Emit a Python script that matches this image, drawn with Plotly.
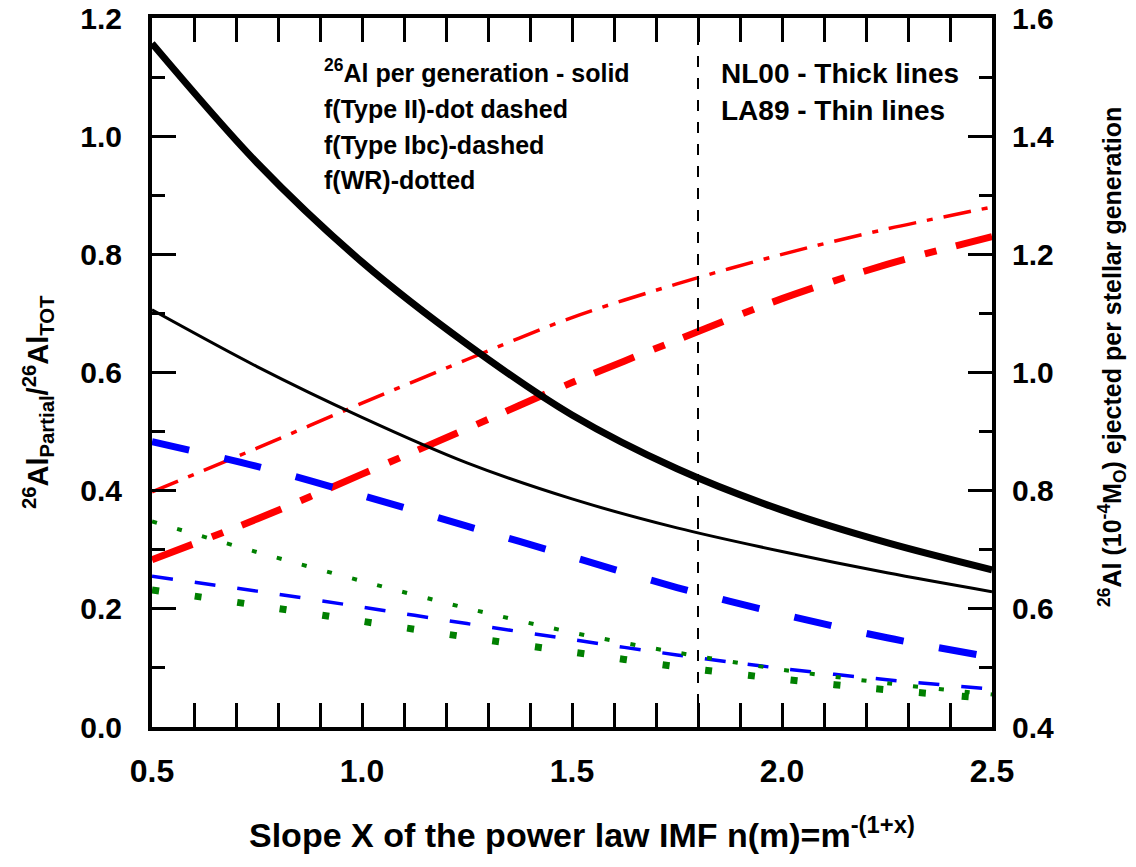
import plotly.graph_objects as go

# ---------------- data ----------------
slope_x = [0.5, 0.75, 1.0, 1.25, 1.5, 1.75, 2.0, 2.25, 2.5]

# 26Al ejected per stellar generation (right axis, 10^-4 Msun) - solid
al26_nl00 = [1.557, 1.355, 1.187, 1.048, 0.928, 0.837, 0.767, 0.712, 0.666]
al26_la89 = [1.106, 1.010, 0.924, 0.847, 0.786, 0.737, 0.697, 0.661, 0.629]

# fractions (left axis)
f_typeII_nl00 = [0.283, 0.352, 0.428, 0.505, 0.583, 0.655, 0.725, 0.783, 0.830]
f_typeII_la89 = [0.398, 0.472, 0.548, 0.622, 0.693, 0.750, 0.800, 0.843, 0.880]
f_typeIbc_nl00 = [0.483, 0.441, 0.392, 0.340, 0.288, 0.236, 0.191, 0.151, 0.118]
f_typeIbc_la89 = [0.255, 0.230, 0.203, 0.175, 0.148, 0.122, 0.099, 0.080, 0.064]
f_wr_nl00 = [0.232, 0.206, 0.179, 0.152, 0.127, 0.102, 0.081, 0.063, 0.048]
f_wr_la89 = [0.348, 0.296, 0.247, 0.201, 0.160, 0.126, 0.097, 0.074, 0.055]

boundary_x = 1.8

x_ticks = [0.5, 1.0, 1.5, 2.0, 2.5]
y_ticks = [0.0, 0.2, 0.4, 0.6, 0.8, 1.0, 1.2]
y2_ticks = [0.4, 0.6, 0.8, 1.0, 1.2, 1.4, 1.6]

# ---------------- styling ----------------
FONT = "Liberation Sans, Arial, sans-serif"
PAGE_OFFSET = 8            # default body margin of the html page
W, H = 1136 - PAGE_OFFSET, 867 - PAGE_OFFSET
# plot-area edges in page pixels
L, R, T, B = 152, 992, 18, 727


def px_x(p):
    return (p - L) / (R - L)


def px_y(p):
    return (B - p) / (B - T)


fig = go.Figure()


def add_line(y, color, width, dash, axis="y"):
    fig.add_trace(go.Scatter(
        x=slope_x, y=y, mode="lines", yaxis=axis,
        line=dict(color=color, width=width, dash=dash, shape="spline", smoothing=0.9),
        showlegend=False, hoverinfo="skip"))


add_line(al26_nl00, "black", 7, "solid", "y2")
add_line(al26_la89, "black", 3, "solid", "y2")
add_line(f_typeII_nl00, "#ff0000", 7, "43px,21px,12px,20px")
add_line(f_typeII_la89, "#ff0000", 3.5, "28px,11px,6px,11px")
add_line(f_typeIbc_nl00, "#0000ff", 7, "38px,36px")
add_line(f_typeIbc_la89, "#0000ff", 3.5, "21px,22px")
add_line(f_wr_nl00, "#008000", 7, "7px,36px")
add_line(f_wr_la89, "#008000", 4, "5px,21px")

fig.add_shape(type="line", xref="x", yref="paper", x0=boundary_x, x1=boundary_x,
              y0=0, y1=1, line=dict(color="black", width=2, dash="11px,11px"))

axis_common = dict(
    showgrid=False, zeroline=False, showline=True, linecolor="black", linewidth=4,
    ticks="inside", ticklen=24, tickwidth=3, tickcolor="black", automargin=False,
    ticklabeloverflow="allow",
)
minor_common = dict(ticks="inside", ticklen=13, tickwidth=3, dtick=0.1,
                    tickcolor="black", showgrid=False)

fig.update_layout(
    width=W, height=H,
    margin=dict(l=L - PAGE_OFFSET, r=W - (R - PAGE_OFFSET), t=T - PAGE_OFFSET,
                b=H - (B - PAGE_OFFSET), pad=0, autoexpand=False),
    paper_bgcolor="white", plot_bgcolor="white",
    showlegend=False,
    xaxis=dict(range=[0.5, 2.5], tickvals=x_ticks, tickformat=".1f",
               mirror="allticks", minor=minor_common,
               tickfont=dict(family=FONT, size=32, color="black", weight="bold"),
               ticklabelstandoff=13,
               **axis_common),
    yaxis=dict(range=[0, 1.2], tickvals=y_ticks, tickformat=".1f",
               mirror=True, minor=minor_common,
               tickfont=dict(family=FONT, size=30, color="black", weight="bold"),
               ticklabelstandoff=20,
               **axis_common),
    yaxis2=dict(range=[0.4, 1.6], tickvals=y2_ticks, tickformat=".1f",
                overlaying="y", side="right", anchor="x", minor=minor_common,
                tickfont=dict(family=FONT, size=30, color="black", weight="bold"),
                ticklabelstandoff=10,
                **axis_common),
)

annotations = []


def note(text, xp, yp, size, xanchor="left", angle=0):
    annotations.append(dict(
        text=text, x=px_x(xp), y=px_y(yp), xref="paper", yref="paper",
        xanchor=xanchor, yanchor="middle", showarrow=False, textangle=angle,
        font=dict(family=FONT, size=size, color="black", weight="bold")))


note("<sup>26</sup>Al per generation - solid", 322, 71, 25)
note("f(Type II)-dot dashed", 322, 109, 25)
note("f(Type Ibc)-dashed", 322, 145, 25)
note("f(WR)-dotted", 322, 180, 25)
note("NL00 - Thick lines", 719, 73, 28)
note("LA89 - Thin lines", 719, 110, 28)

# axis titles
note("Slope X of the power law IMF n(m)=m<sup>-(1+x)</sup>", 582, 832, 34,
     xanchor="center")
note("<sup>26</sup>Al<sub>Partial</sub>/<sup>26</sup>Al<sub>TOT</sub>", 38, 402, 29,
     xanchor="center", angle=-90)
note("<sup>26</sup>Al (10<sup>-4</sup>M<sub>O</sub>) ejected per stellar generation",
     1112, 357, 25, xanchor="center", angle=-90)

fig.update_layout(annotations=annotations)

fig.write_html("out.html")
